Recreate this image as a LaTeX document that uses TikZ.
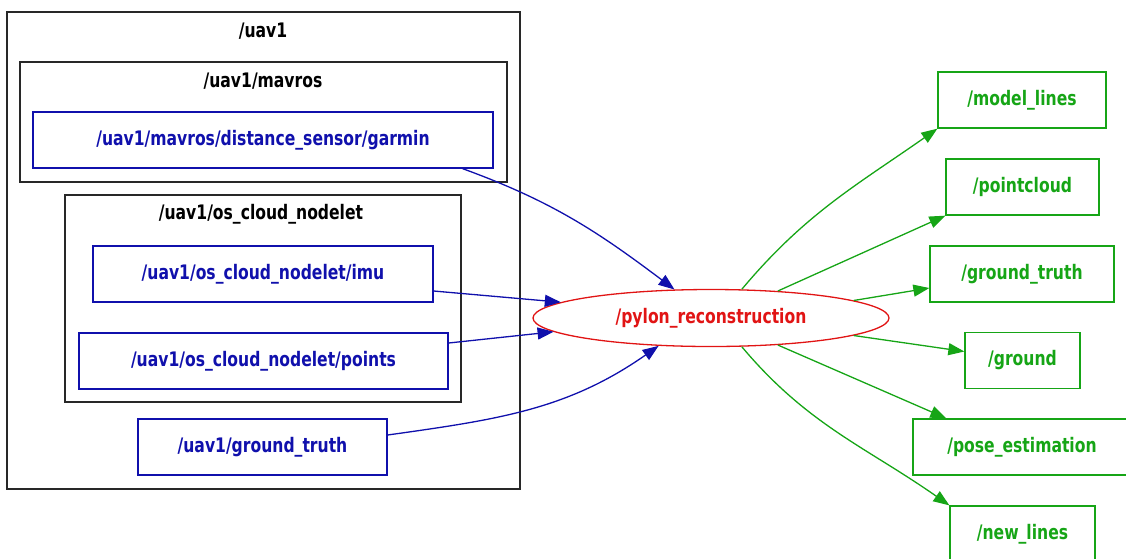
\documentclass[tikz,border=0pt]{standalone}
\usepackage{fontspec}
\newfontfamily\graphfont{DejaVu Sans}[FakeStretch=0.78]
\usetikzlibrary{arrows.meta,shapes.geometric}

\definecolor{topicblue}{RGB}{16,16,172}
\definecolor{nodered}{RGB}{225,20,20}
\definecolor{outgreen}{RGB}{22,165,22}
\definecolor{clustergray}{RGB}{40,40,40}

\begin{document}
\begin{tikzpicture}[x=1pt, y=-1pt,
    font=\graphfont\bfseries\fontsize{20}{23}\selectfont,
    topic/.style={draw=topicblue, text=topicblue, line width=1.3pt, minimum height=56pt, inner sep=0pt},
    outtopic/.style={draw=outgreen, text=outgreen, line width=1.3pt, minimum height=56pt, inner sep=0pt},
    cluster/.style={draw=clustergray, line width=1.4pt},
    inlink/.style={topicblue, line width=1.3pt, -{Triangle[length=16pt,width=12pt]}},
    outlink/.style={outgreen, line width=1.3pt, -{Triangle[length=16pt,width=12pt]}}]
    \useasboundingbox (0,0) rectangle (1126,558);

    % Clusters
    \draw[cluster] (7,12) rectangle (520,489);
    \node (uavlabel) at (263,31) {/uav1};
    \draw[cluster] (20,62) rectangle (507,182);
    \node (mavroslabel) at (263,81) {/uav1/mavros};
    \draw[cluster] (65,195) rectangle (461,402);
    \node (nodeletlabel) at (261,214) {/uav1/os\_cloud\_nodelet};

    % Input topics
    \node[topic, minimum width=460pt] (garmin) at (263,140) {/uav1/mavros/distance\_sensor/garmin};
    \node[topic, minimum width=340pt] (imu) at (263,274) {/uav1/os\_cloud\_nodelet/imu};
    \node[topic, minimum width=369pt] (points) at (263.5,361) {/uav1/os\_cloud\_nodelet/points};
    \node[topic, minimum width=249pt] (gtruth) at (262.5,447) {/uav1/ground\_truth};

    % Node
    \node[ellipse, draw=nodered, text=nodered, line width=1.3pt, minimum width=356pt, minimum height=57pt, inner sep=0pt] (pylon) at (711,318) {/pylon\_reconstruction};

    % Output topics
    \node[outtopic, minimum width=168pt] (model) at (1022,100) {/model\_lines};
    \node[outtopic, minimum width=153pt] (pointcloud) at (1022.5,187) {/pointcloud};
    \node[outtopic, minimum width=184pt] (gtout) at (1022,274) {/ground\_truth};
    \node[outtopic, minimum width=115pt] (ground) at (1022.5,360.5) {/ground};
    \node[outtopic, minimum width=218pt] (pose) at (1022,447) {/pose\_estimation};
    \node[outtopic, minimum width=145pt] (newlines) at (1022.5,534) {/new\_lines};

    % Subscriptions
    \draw[inlink] ([xshift=-31pt]garmin.south east) to[out=-20, in=143] (pylon.142.7);
    \draw[inlink] ([yshift=-17pt]imu.east) -- (pylon.174.7);
    \draw[inlink] ([yshift=18pt]points.east) -- (pylon.185.3);
    \draw[inlink] ([yshift=12pt]gtruth.east) to[out=8, in=215] (pylon.208.8);

    % Publications
    \draw[outlink] (pylon.43.6) to[out=50, in=215] (model.south west);
    \draw[outlink] (pylon.22.9) -- (pointcloud.south west);
    \draw[outlink] (pylon.7.7) -- ([yshift=-14pt]gtout.west);
    \draw[outlink] (pylon.-7.7) -- ([yshift=9pt]ground.west);
    \draw[outlink] (pylon.-22.9) -- ([xshift=34pt]pose.north west);
    \draw[outlink] (pylon.-43.6) to[out=-50, in=145] (newlines.north west);
\end{tikzpicture}
\end{document}
